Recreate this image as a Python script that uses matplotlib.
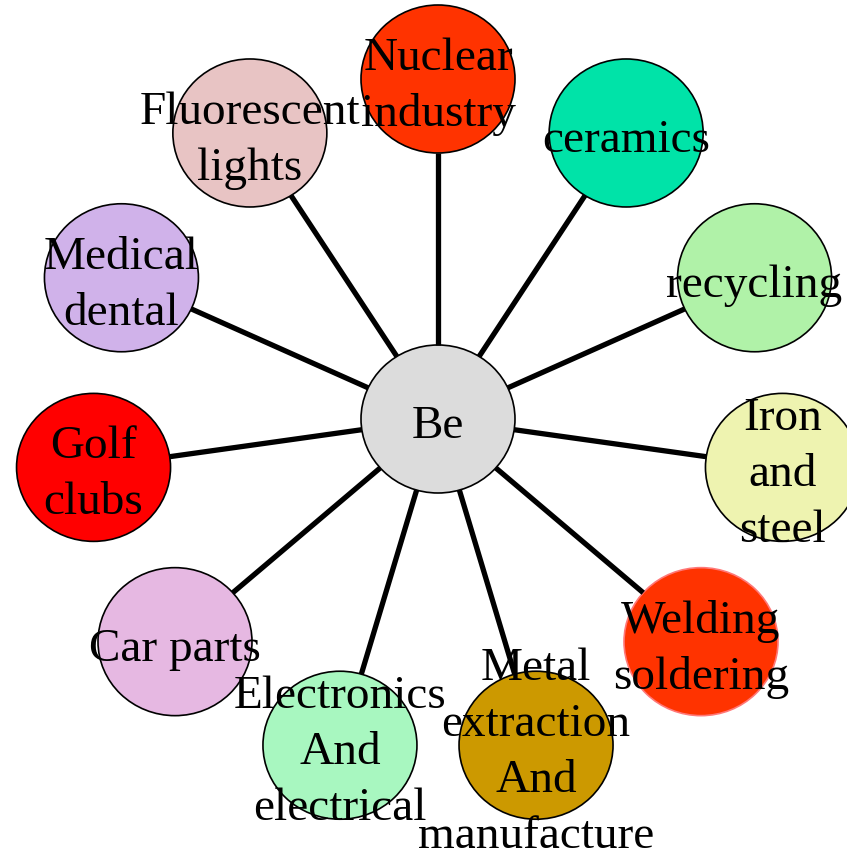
import matplotlib
matplotlib.use("Agg")
import matplotlib.pyplot as plt
from matplotlib.patches import Ellipse
import numpy as np

# node labels, clockwise from the top
labels = [
    "Nuclear\nindustry",
    "ceramics",
    "recycling",
    "Iron\nand\nsteel",
    "Welding\nsoldering",
    "Metal\nextraction\nAnd\nmanufacture",
    "Electronics\nAnd\nelectrical",
    "Car parts",
    "Golf\nclubs",
    "Medical\ndental",
    "Fluorescent\nlights",
]
fills = [
    "#ff3300", "#00e3a8", "#b0f2a8", "#eef3b0", "#ff3300", "#cc9900",
    "#a8f7c0", "#e6b8e2", "#ff0000", "#d0b2ea", "#e8c4c4",
]
edges = ["black"] * 4 + ["#ff7878"] + ["black"] * 6
hub_label = "Be"
hub_fill = "#dcdcdc"

W, H = 847, 853
fig = plt.figure(figsize=(W / 100, H / 100), dpi=100)
ax = fig.add_axes([0, 0, 1, 1])
ax.set_xlim(0, W)
ax.set_ylim(H, 0)
ax.axis("off")

cx, cy = 438, 420          # hub centre (pixels)
rx, ry = 348, 340          # ring radii
a, b = 77, 74              # node semi-axes
font = dict(family="Liberation Serif", size=34, color="black")
step = 56


def edge_dist(ux, uy):
    return 1 / np.sqrt((ux / a) ** 2 + (uy / b) ** 2)


def put_text(x, y, s):
    lines = s.split("\n")
    n = len(lines)
    for k, line in enumerate(lines):
        yb = y + (k - (n - 1) / 2) * step + 18
        ax.text(x, yb, line, ha="center", va="baseline", zorder=3, **font)


n = len(labels)
angles = np.deg2rad(90 - np.arange(n) * 360 / n)
xs = cx + rx * np.cos(angles)
ys = cy - ry * np.sin(angles)

for x, y, lab, fc, ec in zip(xs, ys, labels, fills, edges):
    dx, dy = x - cx, y - cy
    d = np.hypot(dx, dy)
    ux, uy = dx / d, dy / d
    t = edge_dist(ux, uy)
    ax.plot([cx + ux * t, x - ux * t], [cy + uy * t, y - uy * t],
            color="black", lw=3.8, solid_capstyle="butt", zorder=4)
    ax.add_patch(Ellipse((x, y), 2 * a, 2 * b, facecolor=fc,
                         edgecolor=ec, lw=1.2, zorder=2))
    put_text(x, y, lab)

ax.add_patch(Ellipse((cx, cy), 2 * a, 2 * b, facecolor=hub_fill,
                     edgecolor="black", lw=1.2, zorder=2))
put_text(cx, cy, hub_label)

fig.savefig("out.png", dpi=100)
